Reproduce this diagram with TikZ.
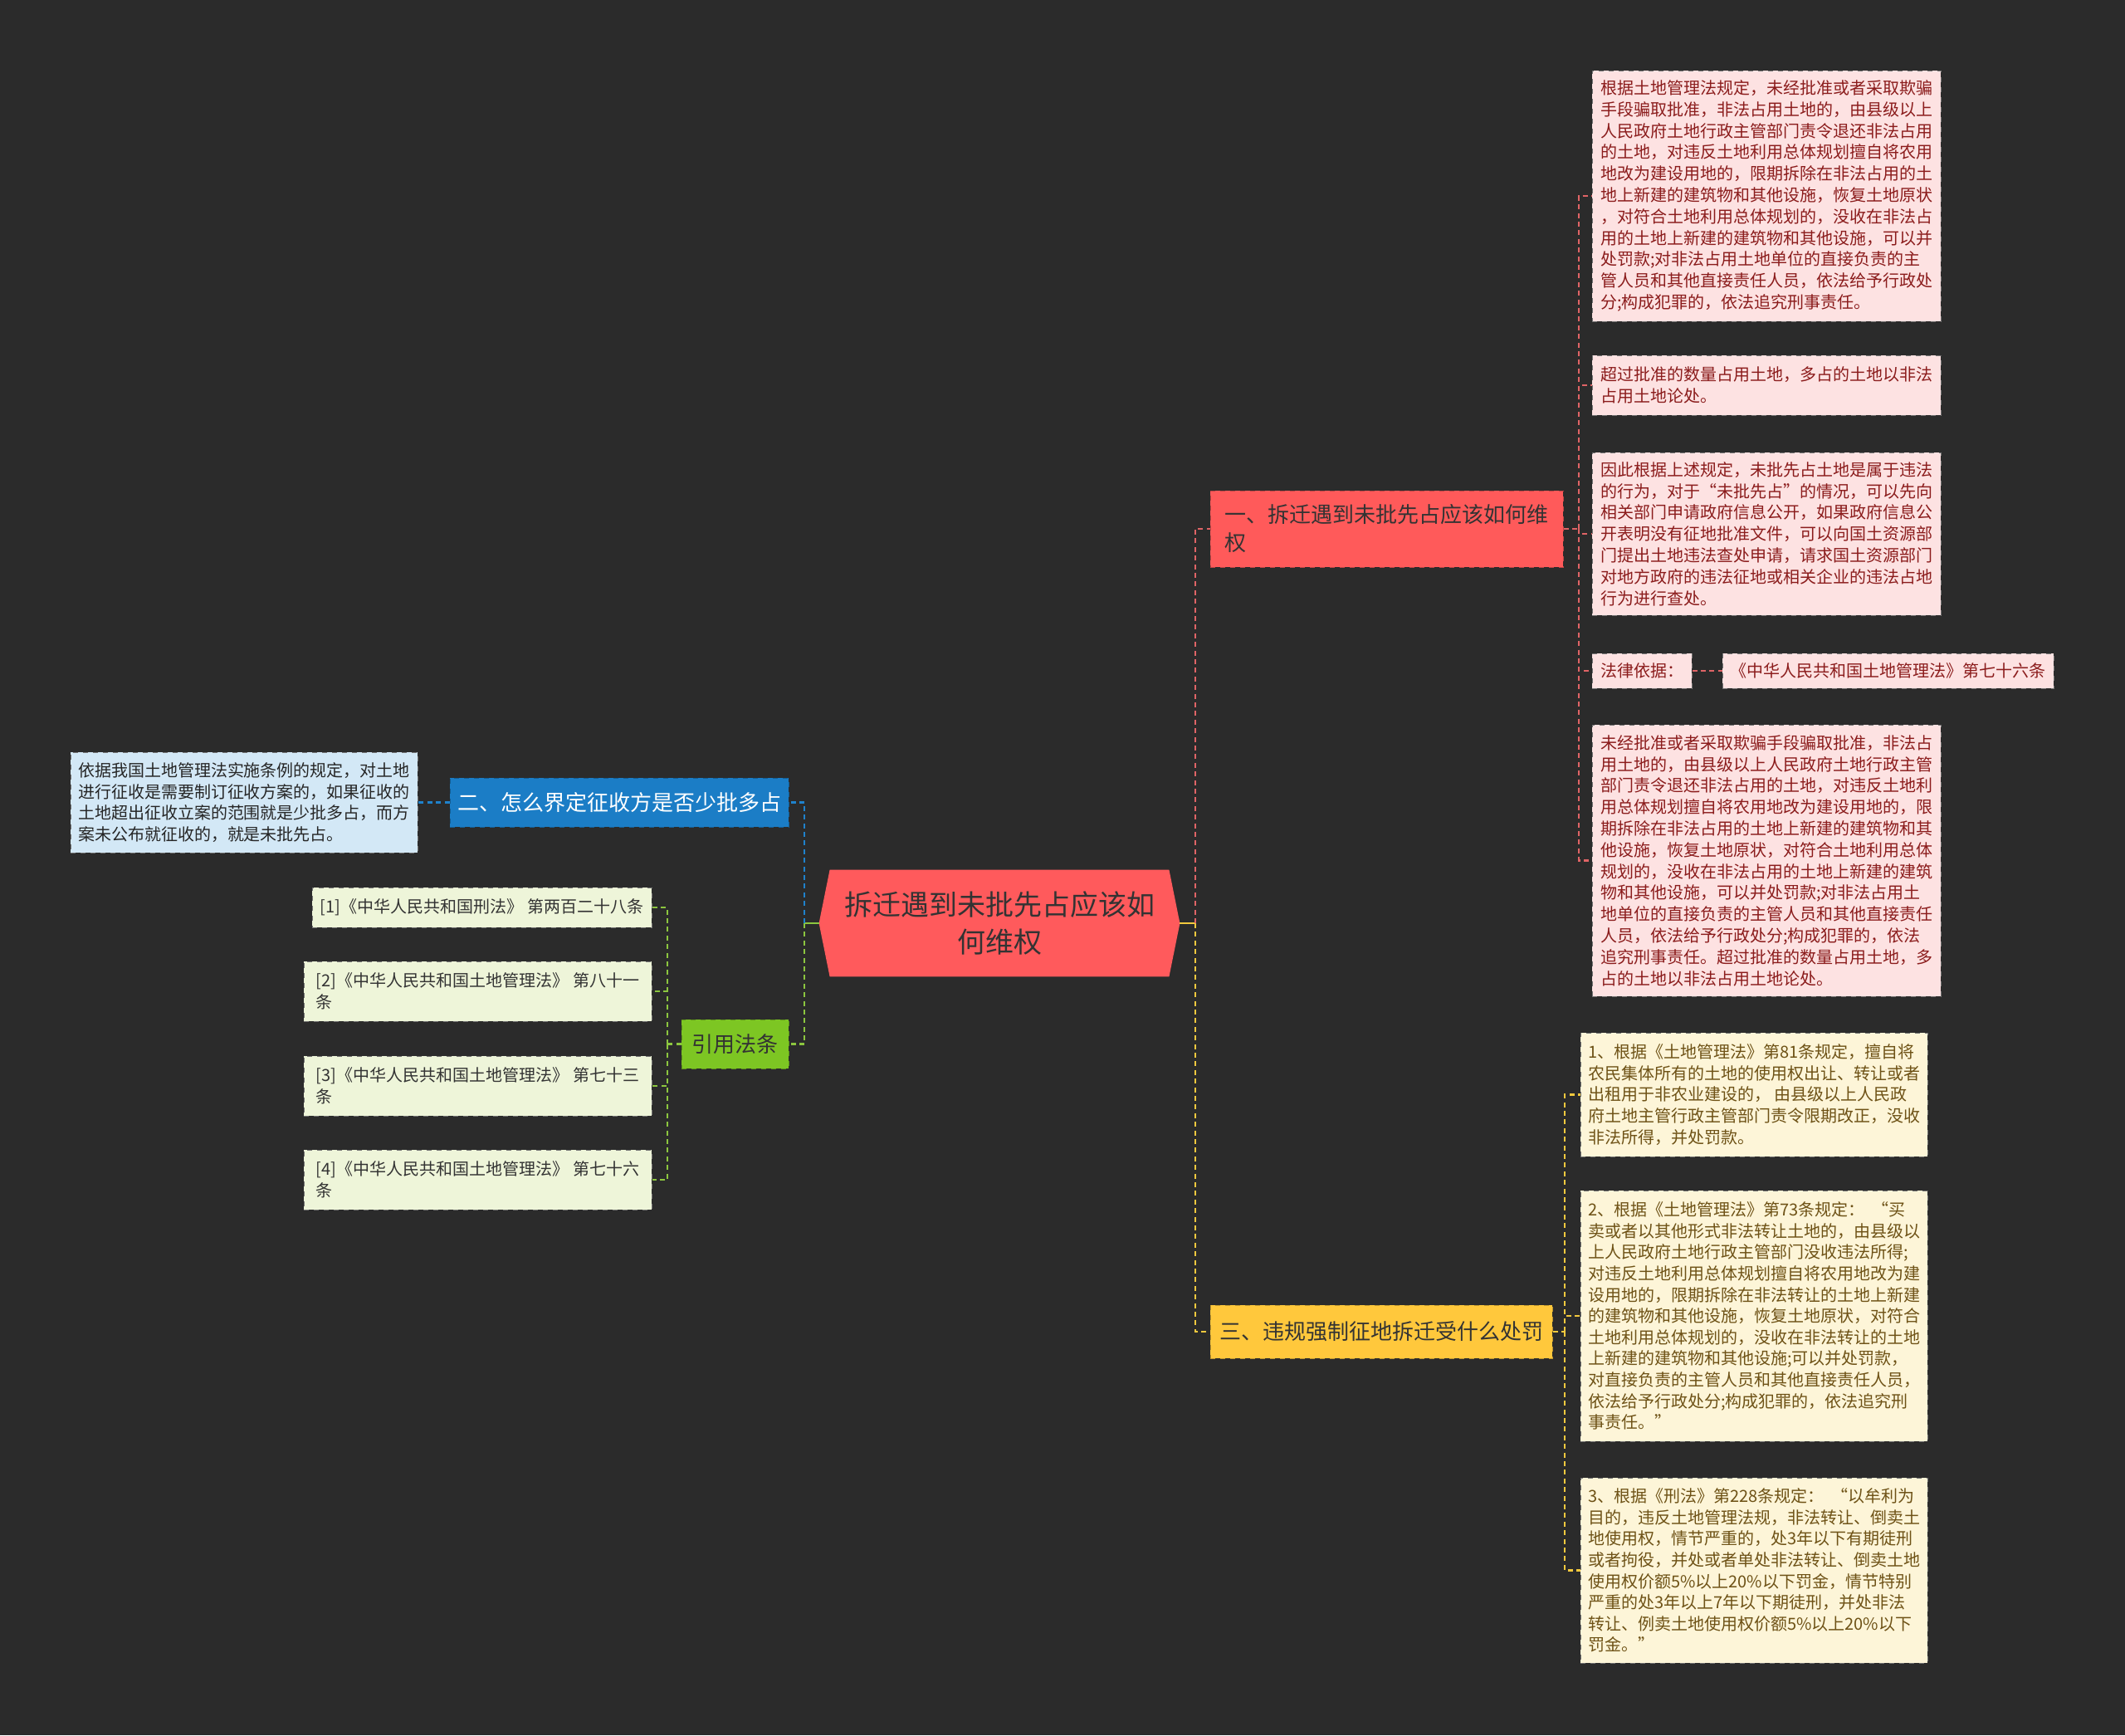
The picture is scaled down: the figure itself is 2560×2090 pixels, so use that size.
\documentclass[tikz,border=0pt]{standalone}
\usepackage{fontspec}
\setmainfont{Noto Sans CJK SC}
\usetikzlibrary{positioning}

\definecolor{bgdark}{HTML}{2B2B2B}
\definecolor{rootred}{HTML}{FF5A5C}
\definecolor{brred}{HTML}{FF5A5A}
\definecolor{brblue}{HTML}{1B7DC6}
\definecolor{brgreen}{HTML}{7DC623}
\definecolor{bryellow}{HTML}{FFC83C}
\definecolor{lfred}{HTML}{FDE2E2}
\definecolor{lfredtext}{HTML}{8B1C1C}
\definecolor{lfyellow}{HTML}{FDF5D8}
\definecolor{lfyellowtext}{HTML}{6E5216}
\definecolor{lfblue}{HTML}{D3E8F6}
\definecolor{lfgreen}{HTML}{EEF5D9}
\definecolor{linered}{HTML}{E06466}
\definecolor{lineyellow}{HTML}{F2C93E}
\definecolor{lineblue}{HTML}{1F82CC}
\definecolor{linegreen}{HTML}{8CC63F}

\tikzset{
  dashline/.style={line width=1.2pt,dash pattern=on 3pt off 2.2pt},
  branch/.style={draw=#1!75!black,fill=#1,dashed,line width=0.5pt,inner sep=0pt,align=left,text=black!80,font={\fontsize{13pt}{17pt}\selectfont}},
  leafbox/.style={draw=black!55,dashed,line width=0.5pt,inner sep=0pt,align=left,font={\fontsize{10pt}{12.9pt}\selectfont}},
  redleaf/.style={leafbox,fill=lfred,text=lfredtext,minimum width=210pt},
  yellowleaf/.style={leafbox,fill=lfyellow,text=lfyellowtext,minimum width=209pt,font={\fontsize{10pt}{12.8pt}\selectfont}},
  greenleaf/.style={leafbox,fill=lfgreen,text=black!80},
}

\begin{document}
\begin{tikzpicture}[x=0.5pt,y=-0.5pt]
\useasboundingbox (0,0) rectangle (2560,2090);
\fill[bgdark] (0,0) rectangle (2560,2090);

% centre
\node[minimum width=217pt,minimum height=64pt,inner sep=0pt] (root) at (1204,1112) {};
\fill[rootred] ([xshift=6.5pt]root.north west) -- ([xshift=-6.5pt]root.north east) -- (root.east)
  -- ([xshift=-6.5pt]root.south east) -- ([xshift=6.5pt]root.south west) -- (root.west) -- cycle;
\node[align=center,text=black!80,font={\fontsize{17pt}{22.9pt}\selectfont}] (roottxt) at (root.center) {拆迁遇到未批先占应该如\\何维权};

% branches
\node[branch=brred,minimum width=212.5pt,minimum height=46pt] (b1) at (1670.5,637) {一、拆迁遇到未批先占应该如何维\\权};
\node[branch=bryellow,minimum width=206pt,minimum height=32pt] (b3) at (1664,1604) {三、违规强制征地拆迁受什么处罚};
\node[branch=brblue,text=white,minimum width=204pt,minimum height=29.5pt] (b2) at (746,966.5) {二、怎么界定征收方是否少批多占};
\node[branch=brgreen,minimum width=64.5pt,minimum height=29.5pt] (bq) at (885.5,1257.5) {引用法条};

% leaves of branch one
\node[redleaf,minimum height=151pt] (r1) at (2128,236) {根据土地管理法规定，未经批准或者采取欺骗\\手段骗取批准，非法占用土地的，由县级以上\\人民政府土地行政主管部门责令退还非法占用\\的土地，对违反土地利用总体规划擅自将农用\\地改为建设用地的，限期拆除在非法占用的土\\地上新建的建筑物和其他设施，恢复土地原状\\，对符合土地利用总体规划的，没收在非法占\\用的土地上新建的建筑物和其他设施，可以并\\处罚款;对非法占用土地单位的直接负责的主\\管人员和其他直接责任人员，依法给予行政处\\分;构成犯罪的，依法追究刑事责任。};
\node[redleaf,minimum height=36pt] (r2) at (2128,464) {超过批准的数量占用土地，多占的土地以非法\\占用土地论处。};
\node[redleaf,minimum height=98pt] (r3) at (2128,643) {因此根据上述规定，未批先占土地是属于违法\\的行为，对于“未批先占”的情况，可以先向\\相关部门申请政府信息公开，如果政府信息公\\开表明没有征地批准文件，可以向国土资源部\\门提出土地违法查处申请，请求国土资源部门\\对地方政府的违法征地或相关企业的违法占地\\行为进行查处。};
\node[redleaf,minimum width=60pt,minimum height=21pt] (r4) at (1978,808) {法律依据：};
\node[redleaf,minimum width=199.5pt,minimum height=21pt] (r4b) at (2274.5,808) {《中华人民共和国土地管理法》第七十六条};
\node[redleaf,minimum height=163.5pt] (r5) at (2128,1036.5) {未经批准或者采取欺骗手段骗取批准，非法占\\用土地的，由县级以上人民政府土地行政主管\\部门责令退还非法占用的土地，对违反土地利\\用总体规划擅自将农用地改为建设用地的，限\\期拆除在非法占用的土地上新建的建筑物和其\\他设施，恢复土地原状，对符合土地利用总体\\规划的，没收在非法占用的土地上新建的建筑\\物和其他设施，可以并处罚款;对非法占用土\\地单位的直接负责的主管人员和其他直接责任\\人员，依法给予行政处分;构成犯罪的，依法\\追究刑事责任。超过批准的数量占用土地，多\\占的土地以非法占用土地论处。};

% leaves of branch three
\node[yellowleaf,minimum height=74.5pt] (y1) at (2113,1318.5) {1、根据《土地管理法》第81条规定，擅自将\\农民集体所有的土地的使用权出让、转让或者\\出租用于非农业建设的， 由县级以上人民政\\府土地主管行政主管部门责令限期改正，没收\\非法所得，并处罚款。};
\node[yellowleaf,minimum height=151pt] (y2) at (2113,1585) {2、根据《土地管理法》第73条规定：\ \ “买\\卖或者以其他形式非法转让土地的，由县级以\\上人民政府土地行政主管部门没收违法所得;\\对违反土地利用总体规划擅自将农用地改为建\\设用地的，限期拆除在非法转让的土地上新建\\的建筑物和其他设施，恢复土地原状，对符合\\土地利用总体规划的，没收在非法转让的土地\\上新建的建筑物和其他设施;可以并处罚款，\\对直接负责的主管人员和其他直接责任人员，\\依法给予行政处分;构成犯罪的，依法追究刑\\事责任。”};
\node[yellowleaf,minimum height=111.5pt] (y3) at (2113,1891.5) {3、根据《刑法》第228条规定：\ \ “以牟利为\\目的，违反土地管理法规，非法转让、倒卖土\\地使用权，情节严重的，处3年以下有期徒刑\\或者拘役，并处或者单处非法转让、倒卖土地\\使用权价额5\%以上20\%以下罚金，情节特别\\严重的处3年以上7年以下期徒刑，并处非法\\转让、例卖土地使用权价额5\%以上20\%以下\\罚金。”};

% leaf of branch two
\node[leafbox,fill=lfblue,text=black!85,minimum width=209pt,minimum height=60.5pt] (lb) at (294,966.5) {依据我国土地管理法实施条例的规定，对土地\\进行征收是需要制订征收方案的，如果征收的\\土地超出征收立案的范围就是少批多占，而方\\案未公布就征收的，就是未批先占。};

% cited laws
\node[greenleaf,minimum width=204.5pt,minimum height=24pt] (g1) at (580.5,1093) {[1]《中华人民共和国刑法》 第两百二十八条};
\node[greenleaf,minimum width=209.5pt,minimum height=36pt] (g2) at (575.5,1194) {[2]《中华人民共和国土地管理法》 第八十一\\条};
\node[greenleaf,minimum width=209.5pt,minimum height=36pt] (g3) at (575.5,1308) {[3]《中华人民共和国土地管理法》 第七十三\\条};
\node[greenleaf,minimum width=209.5pt,minimum height=36pt] (g4) at (575.5,1421) {[4]《中华人民共和国土地管理法》 第七十六\\条};

% connectors
\coordinate (cR) at (1440,1112);
\coordinate (cL) at (969,1112);
\draw[lineyellow,line width=1.2pt] (root.east) -- (cR);
\draw[linegreen,line width=1.2pt] (root.west) -- (cL);
\draw[dashline,linered] (cR) |- (b1.west);
\draw[dashline,lineyellow] (cR) |- (b3.west);
\draw[dashline,lineblue] (cL) |- (b2.east);
\draw[dashline,linegreen] (cL) |- (bq.east);

\coordinate (j1) at (1902,637);
\draw[dashline,linered] (b1.east) -- (j1);
\foreach \n in {r1,r2,r3,r4,r5}
  \draw[dashline,linered] (j1) |- (\n.west);
\draw[dashline,linered] (r4.east) -- (r4b.west);

\coordinate (j3) at (1885,1604);
\draw[dashline,lineyellow] (b3.east) -- (j3);
\foreach \n in {y1,y2,y3}
  \draw[dashline,lineyellow] (j3) |- (\n.west);

\draw[dashline,lineblue] (b2.west) -- (lb.east);

\coordinate (jq) at (804,1257.5);
\draw[dashline,linegreen] (bq.west) -- (jq);
\foreach \n in {g1,g2,g3,g4}
  \draw[dashline,linegreen] (jq) |- (\n.east);

\end{tikzpicture}
\end{document}
